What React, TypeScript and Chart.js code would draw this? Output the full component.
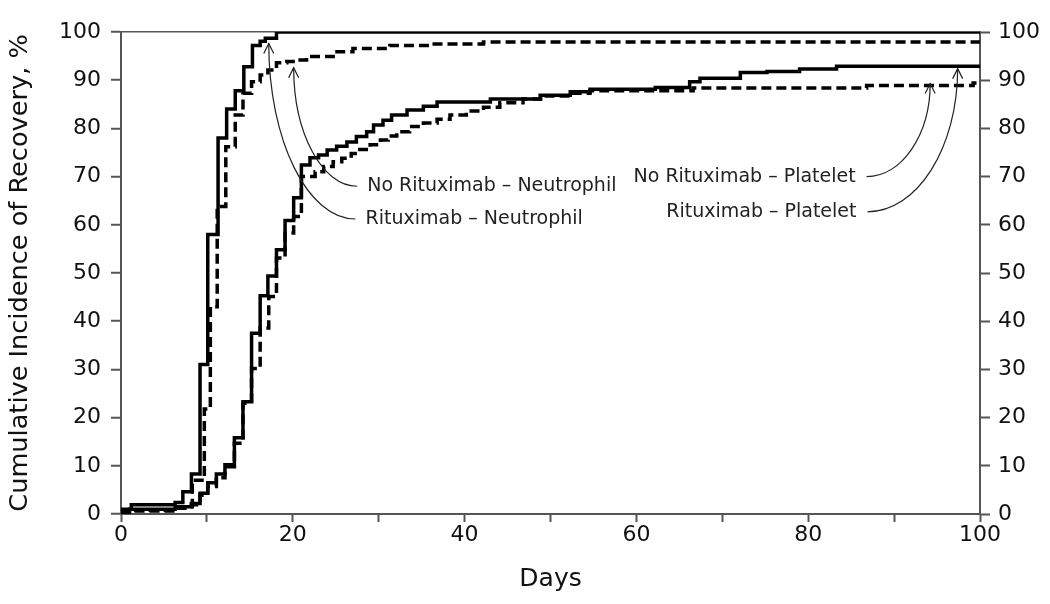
import React, { useEffect, useRef } from 'react';
import { Chart, registerables } from 'chart.js';

Chart.register(...registerables);

// Rituximab – Neutrophil (solid)
const ritNeutDays = [0, 1.2, 6.3, 7.2, 8.2, 9.2, 10.1, 11.3, 12.3, 13.3, 14.3, 15.3, 16.2, 16.8, 18.1, 100];
const ritNeutVals = [1, 1.9, 2.4, 4.6, 8.3, 31, 58, 78, 84, 87.8, 92.8, 97.2, 98.1, 98.7, 100, 100];

// No Rituximab – Neutrophil (dashed)
const noRitNeutDays = [0, 1.5, 6.5, 8.3, 9.7, 10.4, 11.2, 12.2, 13.3, 14.2, 15.2, 16.2, 17.1, 18.1, 19.3, 20.4, 21.6, 24.7, 27, 31.3, 35.9, 42.2, 100];
const noRitNeutVals = [0.3, 0.8, 1.5, 7, 21.8, 43, 63.8, 76.2, 82.8, 87.3, 89.7, 91.1, 92.1, 93.6, 93.9, 94.2, 94.9, 95.9, 96.6, 97.2, 97.5, 97.9, 97.9];

// Rituximab – Platelet (solid)
const ritPlatDays = [0, 1, 6.3, 8.2, 9.2, 10.1, 11.1, 12.1, 13.2, 14.2, 15.2, 16.2, 17.1, 18.1, 19.1, 20.1, 21.0, 22, 23, 24, 25.1, 26.3, 27.4, 28.6, 29.4, 30.5, 31.5, 33.3, 35.2, 36.8, 43, 48.8, 52.3, 54.6, 62.2, 66.2, 67.4, 72.1, 75.2, 79, 83.3, 100];
const ritPlatVals = [0.5, 1.0, 1.5, 2.2, 4.3, 6.5, 8.3, 10.2, 15.8, 23.3, 37.5, 45.3, 49.4, 54.8, 60.9, 65.6, 72.4, 73.9, 74.5, 75.5, 76.3, 77.2, 78.3, 79.3, 80.7, 81.7, 82.8, 83.8, 84.6, 85.5, 86.1, 86.9, 87.6, 88.1, 88.5, 89.7, 90.4, 91.6, 91.8, 92.3, 92.9, 92.9];

// No Rituximab – Platelet (dashed)
const noRitPlatDays = [0, 1.5, 6.3, 8.2, 9.2, 10.1, 11.1, 12.1, 13.2, 14.2, 15.2, 16.2, 17.2, 18.1, 19.1, 20.1, 21, 22.6, 23.6, 24.7, 25.7, 26.8, 27.8, 29, 30.2, 31.1, 32.1, 33.6, 35.2, 36.8, 38.3, 40.2, 42.2, 44.1, 46.8, 49.1, 52.3, 54.6, 66.6, 86.8, 99.2, 100];
const noRitPlatVals = [0.3, 0.6, 1.2, 1.9, 3.9, 5.7, 7.5, 9.8, 14.7, 23, 30.2, 38.6, 45.1, 53.1, 58.3, 61.7, 70, 71, 72.1, 73.1, 73.8, 74.8, 75.6, 76.6, 77.6, 78.4, 79.3, 80.4, 81.1, 81.9, 82.8, 83.6, 84.4, 85.3, 86.1, 86.7, 87.3, 87.8, 88.4, 88.9, 89.4, 89.4];

const xTickMarks = [0, 10, 20, 30, 40, 50, 60, 70, 80, 90, 100];
const xTicks = [0, 20, 40, 60, 80, 100];
const yTicks = [0, 10, 20, 30, 40, 50, 60, 70, 80, 90, 100];

// Annotation labels: anchor = start of the leader curve (days, %), tip = arrow tip (days, %)
const annotationTexts = [
  'No Rituximab – Neutrophil',
  'Rituximab – Neutrophil',
  'No Rituximab – Platelet',
  'Rituximab – Platelet',
];
const annotationAnchorDays = [27.5, 27.3, 86.8, 86.9];
const annotationAnchorPcts = [68.0, 61.2, 70.0, 62.7];
const annotationTipDays = [20.1, 17.2, 94.2, 97.4];
const annotationTipPcts = [92.6, 97.6, 89.3, 92.4];
const annotationSides = ['left', 'left', 'right', 'right'];

const FONT = "'DejaVu Sans', Verdana, sans-serif";

const pts = (d: number[], v: number[]) => d.map((x, i) => ({ x, y: v[i] }));

const annotationPlugin = {
  id: 'leaderLabels',
  afterDatasetsDraw(chart: any) {
    const { ctx } = chart;
    const xs = chart.scales.x;
    const ys = chart.scales.y;
    ctx.save();
    for (let i = 0; i < annotationTexts.length; i++) {
      const x0 = xs.getPixelForValue(annotationAnchorDays[i]);
      const y0 = ys.getPixelForValue(annotationAnchorPcts[i]);
      const xt = xs.getPixelForValue(annotationTipDays[i]);
      const yt = ys.getPixelForValue(annotationTipPcts[i]);
      const k = 0.5523;
      const dx = xt - x0;
      const dy = y0 - yt;
      ctx.strokeStyle = '#222';
      ctx.lineWidth = 1.2;
      ctx.beginPath();
      ctx.moveTo(x0, y0);
      ctx.bezierCurveTo(x0 + k * dx, y0, xt, yt + k * dy, xt, yt);
      ctx.stroke();
      // open arrowhead
      ctx.beginPath();
      ctx.moveTo(xt - 5, yt + 10);
      ctx.lineTo(xt, yt);
      ctx.lineTo(xt + 5, yt + 10);
      ctx.stroke();
      // text
      ctx.fillStyle = '#222';
      ctx.font = `19px ${FONT}`;
      ctx.textBaseline = 'middle';
      if (annotationSides[i] === 'left') {
        ctx.textAlign = 'left';
        ctx.fillText(annotationTexts[i], x0 + 10, y0);
      } else {
        ctx.textAlign = 'right';
        ctx.fillText(annotationTexts[i], x0 - 11, y0);
      }
    }
    ctx.restore();
  },
};

export default function App() {
  const ref = useRef<HTMLCanvasElement>(null);
  useEffect(() => {
    if (!ref.current) return;
    const axisColor = '#555';
    const chart = new Chart(ref.current, {
      type: 'line',
      data: {
        datasets: [
          {
            label: 'Rituximab – Neutrophil',
            data: pts(ritNeutDays, ritNeutVals),
            borderColor: '#000',
            borderWidth: 3.5,
            stepped: 'before',
            pointRadius: 0,
            fill: false,
          },
          {
            label: 'Rituximab – Platelet',
            data: pts(ritPlatDays, ritPlatVals),
            borderColor: '#000',
            borderWidth: 3.5,
            stepped: 'before',
            pointRadius: 0,
            fill: false,
          },
          {
            label: 'No Rituximab – Neutrophil',
            data: pts(noRitNeutDays, noRitNeutVals),
            borderColor: '#000',
            borderWidth: 3.5,
            borderDash: [10, 5],
            stepped: 'before',
            pointRadius: 0,
            fill: false,
          },
          {
            label: 'No Rituximab – Platelet',
            data: pts(noRitPlatDays, noRitPlatVals),
            borderColor: '#000',
            borderWidth: 3.5,
            borderDash: [10, 5],
            stepped: 'before',
            pointRadius: 0,
            fill: false,
          },
        ],
      },
      options: {
        animation: false,
        responsive: false,
        maintainAspectRatio: false,
        layout: { padding: { top: 32, left: 0, right: 0, bottom: 0 } },
        plugins: { legend: { display: false }, tooltip: { enabled: false } },
        scales: {
          x: {
            type: 'linear',
            min: 0,
            max: 100,
            afterFit: (s: any) => { s.height = 90; },
            afterBuildTicks: (s: any) => {
              s.ticks = xTickMarks.map((v) => ({ value: v }));
            },
            ticks: {
              autoSkip: false,
              maxRotation: 0,
              padding: 0,
              color: '#111',
              font: { family: FONT, size: 22 },
              callback: (v: any) => (xTicks.includes(Number(v)) ? String(v) : ''),
            },
            grid: { drawOnChartArea: false, tickLength: 8, tickWidth: 2, tickColor: axisColor },
            border: { color: axisColor, width: 2 },
            title: {
              display: true,
              text: 'Days',
              color: '#111',
              font: { family: FONT, size: 25 },
              padding: { top: 0, bottom: 10 },
            },
          },
          y: {
            position: 'left',
            min: 0,
            max: 100,
            afterFit: (s: any) => { s.width = 121; },
            afterBuildTicks: (s: any) => { s.ticks = yTicks.map((v) => ({ value: v })); },
            ticks: { padding: 10, color: '#111', font: { family: FONT, size: 22 } },
            grid: {
              drawOnChartArea: true,
              color: (c: any) => (c.tick && c.tick.value === 100 ? axisColor : 'rgba(0,0,0,0)'),
              lineWidth: 1.5,
              tickLength: 10,
              tickWidth: 2,
              tickColor: axisColor,
            },
            border: { color: axisColor, width: 2 },
            title: {
              display: true,
              text: 'Cumulative Incidence of Recovery, %',
              color: '#111',
              font: { family: FONT, size: 25.6 },
              padding: { top: 5, bottom: 0 },
            },
          },
          y2: {
            position: 'right',
            min: 0,
            max: 100,
            afterFit: (s: any) => { s.width = 70; },
            afterBuildTicks: (s: any) => { s.ticks = yTicks.map((v) => ({ value: v })); },
            ticks: { padding: 8, color: '#111', font: { family: FONT, size: 22 } },
            grid: { drawOnChartArea: false, tickLength: 10, tickWidth: 2, tickColor: axisColor },
            border: { color: axisColor, width: 2 },
          },
        },
      },
      plugins: [annotationPlugin],
    } as any);
    return () => chart.destroy();
  }, []);
  return (
    <div style={{ position: 'absolute', left: 0, top: 0, width: 1050, height: 604, background: '#fff' }}>
      <canvas ref={ref} width={1050} height={604} />
    </div>
  );
}
